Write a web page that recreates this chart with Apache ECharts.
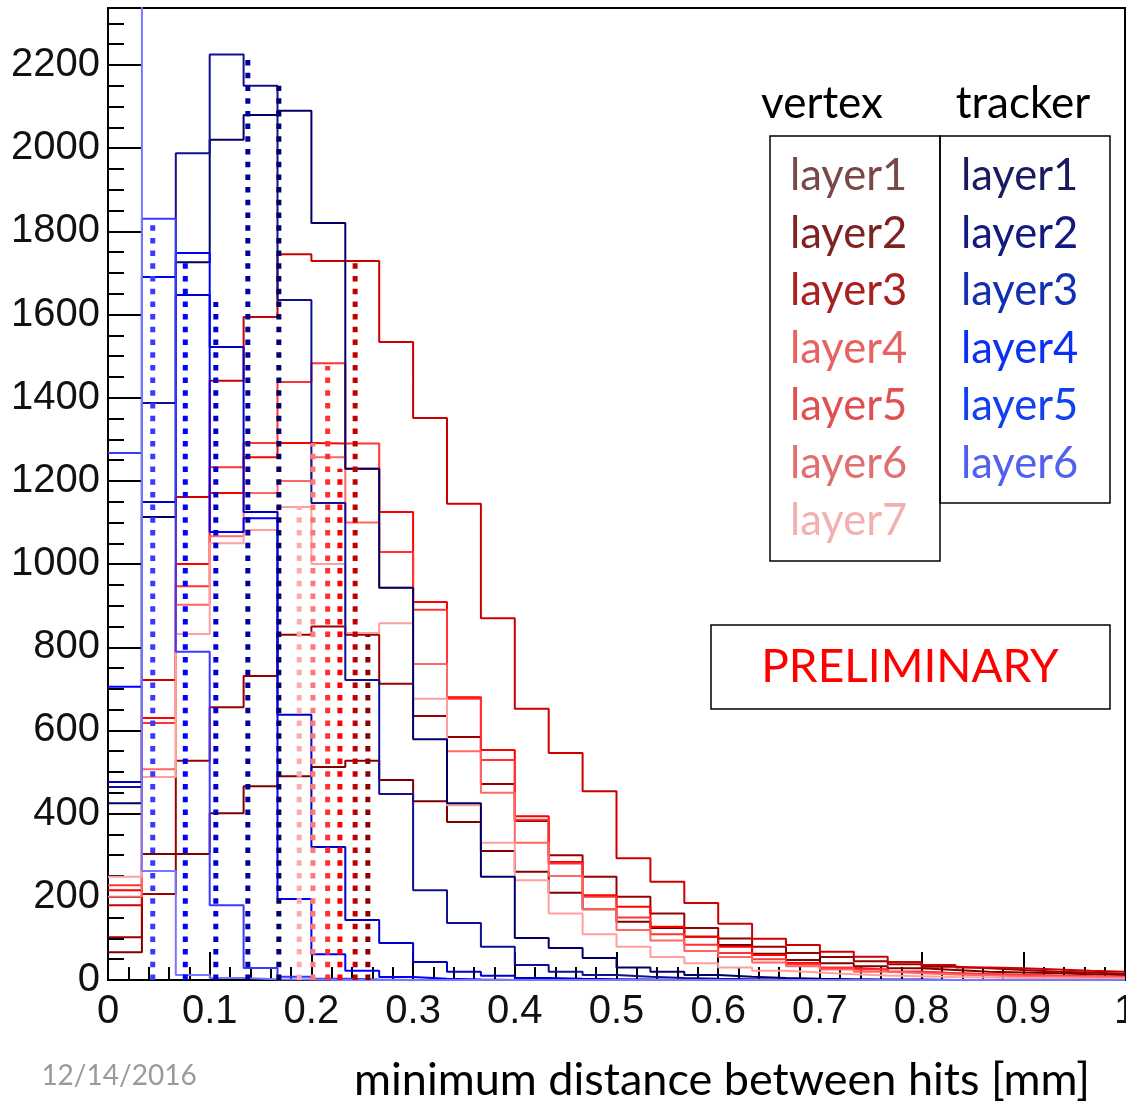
<!DOCTYPE html>
<html><head><meta charset="utf-8">
<script src="https://cdn.jsdelivr.net/npm/echarts@6/dist/echarts.min.js"></script>
<style>html,body{margin:0;padding:0;background:#fff;overflow:hidden}#c{width:1126px;height:1101px}</style>
</head><body><div id="c"></div>
<script>
// ---- data (30 bins from 0 to 1 mm) ----
const binWidth = 1 / 30;
const xTickLabels = ['0','0.1','0.2','0.3','0.4','0.5','0.6','0.7','0.8','0.9','1'];
const vertexNames = ['layer1','layer2','layer3','layer4','layer5','layer6','layer7'];
const trackerNames = ['layer1','layer2','layer3','layer4','layer5','layer6'];
const vertexColors = ['#800000','#990000','#cc0000','#ff0000','#ff3333','#ff6666','#ff9f9f'];
const trackerColors = ['#000066','#101090','#0000cc','#0000ff','#3a3aff','#7878ff'];
const vertexTextColors = ['#7a4848','#7e2222','#a82020','#e86262','#e05050','#e07070','#f2b0b0'];
const trackerTextColors = ['#1a1a60','#121a80','#1030b0','#0a30f0','#1040f0','#5060f0'];

const vertexLayer1 = [67,303,303,401,466,490,512,527,481,430,380,310,260,210,170,140,125,104,84,63,48,40,33,28,24,20,18,16,14,12];
const vertexLayer2 = [103,207,527,656,731,830,850,830,712,635,584,471,382,300,248,200,160,125,100,80,65,55,45,38,32,28,24,20,18,15];
const vertexLayer3 = [180,721,1161,1441,1594,1745,1729,1729,1534,1351,1145,870,652,546,454,293,236,185,135,99,84,68,56,43,36,30,28,25,22,20];
const vertexLayer4 = [216,630,1000,1171,1257,1291,1290,1229,1125,909,680,553,394,284,204,176,128,104,80,60,41,29,25,20,16,14,12,10,8,7];
const vertexLayer5 = [228,618,947,1233,1291,1438,1483,1290,1029,890,676,529,385,280,200,150,110,85,65,50,38,30,25,20,16,14,12,10,9,8];
const vertexLayer6 = [200,507,902,1067,1171,1200,1257,1100,943,760,550,450,330,250,170,120,95,70,55,42,33,25,20,16,13,11,9,8,7,6];
const vertexLayer7 = [248,488,832,1050,1082,1137,1000,834,858,676,420,330,240,160,110,80,55,40,30,22,18,14,11,9,7,6,5,4,3,3];

const trackerLayer1 = [425,1113,1726,2020,2080,2090,1820,1229,943,579,425,248,101,77,53,30,20,12,8,5,3,2,1,1,0,0,0,0,0,0];
const trackerLayer2 = [464,1387,1988,2225,2150,1635,1147,721,447,216,137,80,36,20,12,8,5,3,2,1,0,0,0,0,0,0,0,0,0,0];
const trackerLayer3 = [476,1149,1647,1522,1125,638,320,144,89,43,20,10,5,3,2,1,0,0,0,0,0,0,0,0,0,0,0,0,0,0];
const trackerLayer4 = [705,1690,1748,1077,1110,195,62,22,7,3,1,0,0,0,0,0,0,0,0,0,0,0,0,0,0,0,0,0,0,0];
const trackerLayer5 = [1267,1830,789,180,29,8,3,1,0,0,0,0,0,0,0,0,0,0,0,0,0,0,0,0,0,0,0,0,0,0];
const trackerLayer6 = [2600,262,12,5,2,1,0,0,0,0,0,0,0,0,0,0,0,0,0,0,0,0,0,0,0,0,0,0,0,0];

// mean markers (dotted): position [mm], height [entries], colour
const meanX      = [0.044, 0.076, 0.106, 0.1375, 0.168, 0.188, 0.2015, 0.216, 0.228, 0.243, 0.2555];
const meanHeight = [1815, 1724, 1630, 2216, 2150, 1137, 1291, 1476, 1229, 1724, 830];
const meanColors = ['#3a3aff','#0000ff','#0000cc','#000099','#000066','#ffaaaa','#ff7777','#ff3030','#ff0000','#c00000','#8b0000'];

// ---- build ----
const vertexData = [vertexLayer1,vertexLayer2,vertexLayer3,vertexLayer4,vertexLayer5,vertexLayer6,vertexLayer7];
const trackerData = [trackerLayer1,trackerLayer2,trackerLayer3,trackerLayer4,trackerLayer5,trackerLayer6];
function stepPoints(vals){
  const pts = vals.map((v,i)=>[i*binWidth, v]);
  pts.push([1, vals[vals.length-1]]);
  return pts;
}
const series = [];
vertexData.forEach((vals,i)=>{
  series.push({name:'vertex '+vertexNames[i], type:'line', step:'end', data:stepPoints(vals),
    symbol:'none', clip:true, silent:true, z:2,
    lineStyle:{color:vertexColors[i], width:2}, itemStyle:{color:vertexColors[i]}});
});
trackerData.forEach((vals,i)=>{
  series.push({name:'tracker '+trackerNames[i], type:'line', step:'end', data:stepPoints(vals),
    symbol:'none', clip:true, silent:true, z:3,
    lineStyle:{color:trackerColors[i], width:2}, itemStyle:{color:trackerColors[i]}});
});
meanX.forEach((x,i)=>{
  series.push({name:'mean'+i, type:'line', data:[[x,0],[x,meanHeight[i]]], symbol:'none', silent:true, z:5,
    lineStyle:{color:meanColors[i], width:5, type:[5.5,7.2], cap:'butt'}});
});

const legendFont = {fontFamily:'Lato', fontSize:43.5, lineHeight:50};
const chart = echarts.init(document.getElementById('c'), null, {renderer:'canvas'});
chart.setOption({
  animation:false,
  backgroundColor:'#fff',
  grid:{left:108, top:8, right:1, bottom:121, show:true, borderColor:'#000', borderWidth:2,
        backgroundColor:'transparent', containLabel:false, outerBoundsMode:'none'},
  xAxis:{type:'value', min:0, max:1, interval:0.1,
    axisLine:{show:true, onZero:false, lineStyle:{color:'#000', width:2}},
    axisTick:{show:true, inside:true, length:28, lineStyle:{color:'#000', width:2}},
    minorTick:{show:true, splitNumber:5, length:13, lineStyle:{color:'#000', width:2}},
    splitLine:{show:false},
    axisLabel:{margin:12, color:'#111', fontFamily:'Liberation Sans', fontSize:40, hideOverlap:false,
      formatter:(v)=>{const k=Math.round(v*10); return Math.abs(v*10-k)<1e-6 ? xTickLabels[k] : '';}}
  },
  yAxis:{type:'value', min:0, max:2337, interval:200,
    axisLine:{show:true, lineStyle:{color:'#000', width:2}},
    axisTick:{show:true, inside:true, length:33, lineStyle:{color:'#000', width:2}},
    minorTick:{show:true, splitNumber:4, length:16, lineStyle:{color:'#000', width:2}},
    splitLine:{show:false},
    axisLabel:{margin:8, color:'#111', fontFamily:'Liberation Sans', fontSize:40, showMaxLabel:false, hideOverlap:false,
      formatter:(v)=> (Math.round(v)%200===0 ? String(Math.round(v)) : '')}
  },
  legend:[
    {orient:'vertical', left:785, top:151, padding:0, itemGap:7.5, itemWidth:0, itemHeight:0, selectedMode:false,
     icon:'rect', itemStyle:{opacity:0}, lineStyle:{opacity:0},
     formatter:(n)=>n.split(' ')[1], textStyle:legendFont,
     data:vertexNames.map((n,i)=>({name:'vertex '+n, textStyle:{color:vertexTextColors[i]}}))},
    {orient:'vertical', left:956, top:151, padding:0, itemGap:7.5, itemWidth:0, itemHeight:0, selectedMode:false,
     icon:'rect', itemStyle:{opacity:0}, lineStyle:{opacity:0},
     formatter:(n)=>n.split(' ')[1], textStyle:legendFont,
     data:trackerNames.map((n,i)=>({name:'tracker '+n, textStyle:{color:trackerTextColors[i]}}))}
  ],
  graphic:[
    {type:'rect', shape:{x:770, y:136, width:170, height:425}, style:{fill:'none', stroke:'#000', lineWidth:1.5}, z:10},
    {type:'rect', shape:{x:940, y:136, width:170, height:367}, style:{fill:'none', stroke:'#000', lineWidth:1.5}, z:10},
    {type:'rect', shape:{x:711, y:625, width:399, height:84}, style:{fill:'#fff', stroke:'#000', lineWidth:1.5}, z:10},
    {type:'text', x:822, y:104, style:{text:'vertex', fill:'#000', font:'44px Lato', textAlign:'center', textVerticalAlign:'middle'}, z:10},
    {type:'text', x:1023, y:104, style:{text:'tracker', fill:'#000', font:'44px Lato', textAlign:'center', textVerticalAlign:'middle'}, z:10},
    {type:'text', x:910, y:667, style:{text:'PRELIMINARY', fill:'#ff0000', font:'46px Lato', textAlign:'center', textVerticalAlign:'middle'}, z:11},
    {type:'text', x:722, y:1080, style:{text:'minimum distance between hits [mm]', fill:'#000', font:'45px Lato', textAlign:'center', textVerticalAlign:'middle'}, z:10},
    {type:'text', x:119, y:1076, style:{text:'12/14/2016', fill:'#9a9a9a', font:'28px Lato', textAlign:'center', textVerticalAlign:'middle'}, z:10}
  ],
  series: series
});
</script></body></html>
